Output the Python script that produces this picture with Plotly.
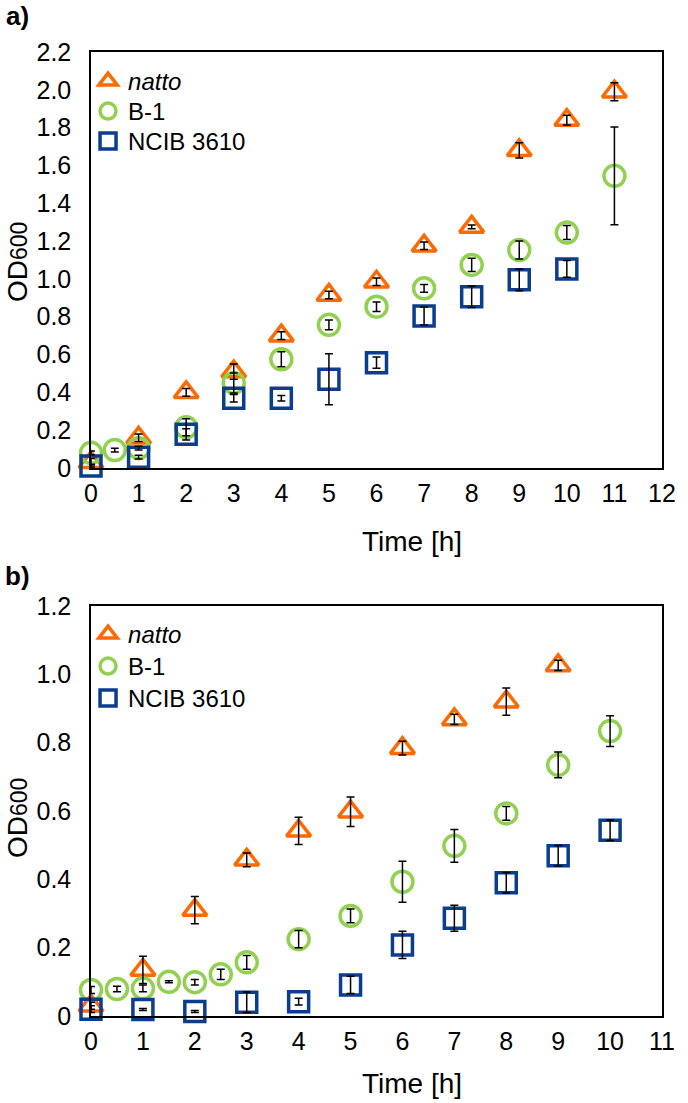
import plotly.graph_objects as go

# ---- panel a data ----
t_natto_a = [0, 1, 2, 3, 4, 5, 6, 7, 8, 9, 10, 11]
natto_a = [0.03, 0.16, 0.40, 0.51, 0.70, 0.915, 0.985, 1.175, 1.275, 1.68, 1.84, 1.99]
natto_a_err = [0.02, 0.02, 0.02, 0.04, 0.02, 0.02, 0.02, 0.02, 0.01, 0.04, 0.026, 0.048]

t_b1_a = [0, 0.5, 1, 2, 3, 4, 5, 6, 7, 8, 9, 10, 11]
b1_a = [0.08, 0.095, 0.105, 0.215, 0.45, 0.575, 0.757, 0.853, 0.95, 1.074, 1.153, 1.245, 1.545]
b1_a_err = [0.01, 0.01, 0.01, 0.045, 0.053, 0.04, 0.026, 0.025, 0.02, 0.035, 0.048, 0.037, 0.259]

t_ncib_a = [0, 1, 2, 3, 4, 5, 6, 7, 8, 9, 10]
ncib_a = [0.01, 0.057, 0.178, 0.369, 0.369, 0.469, 0.557, 0.804, 0.906, 0.995, 1.053]
ncib_a_err = [0.01, 0.01, 0.03, 0.02, 0.015, 0.135, 0.03, 0.048, 0.057, 0.057, 0.044]

# ---- panel b data ----
t_natto_b = [0, 1, 2, 3, 4, 5, 6, 7, 8, 9]
natto_b = [0.03, 0.135, 0.31, 0.457, 0.542, 0.598, 0.784, 0.868, 0.92, 1.026]
natto_b_err = [0.01, 0.04, 0.04, 0.02, 0.04, 0.043, 0.02, 0.015, 0.04, 0.015]

t_b1_b = [0, 0.5, 1, 1.5, 2, 2.5, 3, 4, 5, 6, 7, 8, 9, 10]
b1_b = [0.076, 0.079, 0.081, 0.10, 0.099, 0.122, 0.157, 0.225, 0.293, 0.393, 0.498, 0.593, 0.735, 0.834]
b1_b_err = [0.01, 0.008, 0.01, 0.003, 0.008, 0.015, 0.02, 0.025, 0.02, 0.06, 0.048, 0.02, 0.038, 0.045]

t_ncib_b = [0, 1, 2, 3, 4, 5, 6, 7, 8, 9, 10]
ncib_b = [0.02, 0.019, 0.013, 0.04, 0.042, 0.091, 0.208, 0.286, 0.39, 0.469, 0.544]
ncib_b_err = [0.01, 0.003, 0.003, 0.03, 0.01, 0.025, 0.04, 0.038, 0.03, 0.03, 0.03]

names = ['<i>natto</i>', 'B-1', 'NCIB 3610']
colors = ['#FF6A00', '#92D050', '#0B3D8F']
symbols = ['triangle-up-open', 'circle-open', 'square-open']
sizes = [21, 21, 20]

yticks_a = [0, 0.2, 0.4, 0.6, 0.8, 1.0, 1.2, 1.4, 1.6, 1.8, 2.0, 2.2]
yticks_b = [0, 0.2, 0.4, 0.6, 0.8, 1.0, 1.2]

FONT = 'Liberation Sans, Arial, sans-serif'

W, H = 688, 1103
LEFT, RIGHT, TOP, BOTTOM = 91, 670, 52, 1016   # plot-area edges in pixels
plot_w = RIGHT - LEFT
plot_h = BOTTOM - TOP


def ypaper(y_px):
    return (BOTTOM - y_px) / plot_h


def xpaper(x_px):
    return (x_px - LEFT) / plot_w


fig = go.Figure()

# each legend entry gets its own legend box so the row spacing can be matched
legend_rows = [[80, 110, 140], [633, 665, 697]]

panels = [
    ('x', 'y', [(t_natto_a, natto_a, natto_a_err), (t_b1_a, b1_a, b1_a_err), (t_ncib_a, ncib_a, ncib_a_err)]),
    ('x2', 'y2', [(t_natto_b, natto_b, natto_b_err), (t_b1_b, b1_b, b1_b_err), (t_ncib_b, ncib_b, ncib_b_err)]),
]

legend_layout = {}
leg_n = 0
for p, (xa, ya, series) in enumerate(panels):
    # markers first
    for i, (t, v, e) in enumerate(series):
        leg_n += 1
        leg_name = 'legend' if leg_n == 1 else 'legend%d' % leg_n
        fig.add_trace(go.Scatter(
            x=t, y=v, mode='markers', name=names[i], xaxis=xa, yaxis=ya, legend=leg_name,
            cliponaxis=False,
            marker=dict(symbol=symbols[i], size=sizes[i], color=colors[i],
                        line=dict(width=3.5, color=colors[i])),
        ))
        legend_layout[leg_name] = dict(
            x=xpaper(88), y=ypaper(legend_rows[p][i] - 21), xanchor='left', yanchor='top',
            font=dict(family=FONT, size=24, color='black'), bgcolor='rgba(0,0,0,0)')
    # error bars on top of the markers
    for i, (t, v, e) in enumerate(series):
        fig.add_trace(go.Scatter(
            x=t, y=v, mode='markers', xaxis=xa, yaxis=ya, showlegend=False,
            cliponaxis=False, hoverinfo='skip',
            marker=dict(size=1, opacity=0),
            error_y=dict(type='data', array=e, visible=True, color='black',
                         thickness=1.5, width=4),
        ))

axis_common = dict(showline=True, linecolor='black', linewidth=1.5, mirror=True,
                   showgrid=False, zeroline=False, ticks='',
                   tickfont=dict(family=FONT, size=25, color='black'))

fig.update_layout(
    width=W, height=H,
    margin=dict(l=LEFT, r=W - RIGHT, t=TOP, b=H - BOTTOM),
    plot_bgcolor='white', paper_bgcolor='white',
    font=dict(family=FONT, color='black'),
    xaxis=dict(axis_common, range=[0, 12], tickvals=list(range(13)), anchor='y',
               domain=[0, 1], ticklabelstandoff=2),
    yaxis=dict(axis_common, range=[0, 2.2], tickvals=yticks_a,
               ticktext=['0'] + ['%.1f' % v for v in yticks_a[1:]],
               anchor='x', domain=[ypaper(468), 1.0], ticklabelstandoff=13),
    xaxis2=dict(axis_common, range=[0, 11], tickvals=list(range(12)), anchor='y2',
                domain=[0, 1], ticklabelstandoff=2),
    yaxis2=dict(axis_common, range=[0, 1.2], tickvals=yticks_b,
                ticktext=['0'] + ['%.1f' % v for v in yticks_b[1:]],
                anchor='x2', domain=[0.0, ypaper(606)], ticklabelstandoff=13),
    showlegend=True,
    **legend_layout,
)

# axis titles and panel labels (positions in pixels)
label_font = dict(family=FONT, size=28, color='black')
od_text = 'OD<span style="font-size:23px">600</span>'
for ttl_y, od_y, lab, lab_y in [(541, 262, 'a)', 16), (1083, 818, 'b)', 576)]:
    fig.add_annotation(text='Time [h]', x=xpaper(416), y=ypaper(ttl_y),
                       xref='paper', yref='paper', xanchor='center', yanchor='middle',
                       showarrow=False, font=label_font)
    fig.add_annotation(text=od_text, x=xpaper(16), y=ypaper(od_y),
                       xref='paper', yref='paper', xanchor='center', yanchor='middle',
                       textangle=-90, showarrow=False, font=label_font)
    fig.add_annotation(text='<b>%s</b>' % lab, x=xpaper(16), y=ypaper(lab_y),
                       xref='paper', yref='paper', xanchor='center', yanchor='middle',
                       showarrow=False, font=dict(family=FONT, size=26, color='black'))

# drop the default 8px page margin so the figure sits at the page corner
fig.write_html('out.html', config={'displayModeBar': False},
               post_script="document.body.style.margin='0';")
